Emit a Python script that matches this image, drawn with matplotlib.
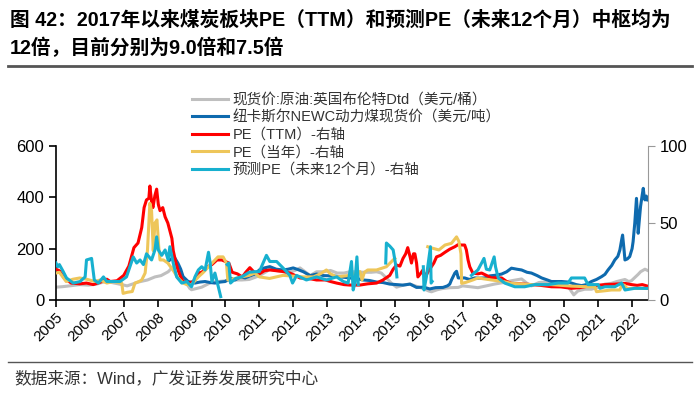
import numpy as np
import matplotlib
matplotlib.use('Agg')
import matplotlib.pyplot as plt

plt.rcParams['font.family'] = ['Liberation Sans', 'Noto Sans CJK SC', 'DejaVu Sans']
nan = np.nan

# 布伦特原油（美元/桶）- 左轴
brent_x = [2005.0, 2005.2, 2005.46, 2005.7, 2005.95, 2006.2, 2006.45, 2006.65, 2006.94, 2007.1, 2007.43, 2007.7,
           2007.92, 2008.1, 2008.31, 2008.46, 2008.55, 2008.71, 2008.85, 2008.95, 2009.0, 2009.15, 2009.3, 2009.45,
           2009.6, 2009.8, 2010.0, 2010.25, 2010.48, 2010.7, 2010.87, 2011.0, 2011.2, 2011.31, 2011.5, 2011.7,
           2011.9, 2012.05, 2012.2, 2012.35, 2012.5, 2012.69, 2012.9, 2013.1, 2013.3, 2013.5, 2013.67, 2013.9,
           2014.06, 2014.3, 2014.46, 2014.6, 2014.75, 2014.9, 2015.05, 2015.25, 2015.44, 2015.6, 2015.83, 2016.0,
           2016.08, 2016.25, 2016.42, 2016.62, 2016.87, 2017.0, 2017.2, 2017.45, 2017.7, 2017.94, 2018.2, 2018.44,
           2018.74, 2018.9, 2019.03, 2019.25, 2019.42, 2019.6, 2019.92, 2020.05, 2020.15, 2020.28, 2020.4, 2020.6,
           2020.8, 2021.0, 2021.2, 2021.39, 2021.55, 2021.79, 2021.9, 2021.98, 2022.1, 2022.18, 2022.25, 2022.38,
           2022.46]
brent_y = [50, 52, 56, 60, 58, 62, 72, 68, 60, 55, 70, 78,
           90, 95, 110, 130, 135, 100, 65, 45, 40, 45, 50, 60,
           70, 72, 75, 78, 78, 80, 88, 95, 110, 120, 115, 110,
           108, 115, 125, 110, 95, 110, 110, 115, 105, 105, 110, 110,
           108, 108, 110, 105, 86, 65, 50, 58, 62, 55, 45, 35,
           32, 40, 45, 48, 49, 55, 52, 48, 55, 62, 68, 75,
           82, 65, 55, 68, 70, 62, 65, 60, 45, 20, 35, 42,
           42, 50, 62, 65, 72, 80, 72, 75, 90, 100, 110, 120,
           115]

# 纽卡斯尔NEWC动力煤（美元/吨）- 左轴
coal_x = [2008.3, 2008.4, 2008.5, 2008.6, 2008.68, 2008.75, 2008.9, 2009.1, 2009.25, 2009.4, 2009.55, 2009.69,
          2009.85, 2009.99, 2010.15, 2010.28, 2010.45, 2010.58, 2010.75, 2010.87, 2011.0, 2011.15, 2011.31, 2011.5,
          2011.7, 2011.85, 2012.0, 2012.15, 2012.3, 2012.5, 2012.69, 2012.9, 2013.18, 2013.4, 2013.67, 2013.85,
          2014.06, 2014.25, 2014.46, 2014.65, 2014.85, 2015.05, 2015.24, 2015.45, 2015.64, 2015.85, 2016.03, 2016.2,
          2016.42, 2016.55, 2016.62, 2016.67, 2016.77, 2016.82, 2016.87, 2017.06, 2017.2, 2017.36, 2017.5, 2017.65,
          2017.8, 2017.94, 2018.15, 2018.3, 2018.44, 2018.6, 2018.74, 2018.9, 2019.03, 2019.2, 2019.33, 2019.5,
          2019.62, 2019.92, 2020.1, 2020.21, 2020.35, 2020.51, 2020.65, 2020.8, 2020.95, 2021.1, 2021.2, 2021.29,
          2021.4, 2021.49, 2021.58, 2021.64, 2021.7, 2021.72, 2021.76, 2021.79, 2021.86, 2021.93, 2022.0, 2022.03,
          2022.08, 2022.13, 2022.16, 2022.18, 2022.22, 2022.25, 2022.3, 2022.33, 2022.36, 2022.38, 2022.42, 2022.46]
coal_y = [150, 160, 165, 143, 120, 91, 72, 66, 70, 72, 68, 66,
          70, 72, 85, 78, 90, 86, 95, 101, 117, 125, 130, 120,
          117, 120, 125, 118, 110, 95, 101, 95, 94, 90, 86, 84,
          78, 76, 70, 68, 62, 60, 58, 62, 49, 50, 43, 48,
          49, 55, 62, 78, 105, 112, 86, 86, 80, 86, 85, 86,
          94, 96, 101, 110, 124, 120, 117, 108, 105, 95, 86, 78,
          72, 72, 70, 66, 60, 56, 60, 72, 80, 91, 100, 117,
          135, 156, 170, 195, 240, 253, 200, 156, 160, 169, 200, 227,
          300, 396, 330, 260, 320, 364, 410, 435, 400, 390, 405, 390]

# PE（TTM）- 右轴
pe_ttm_x = [2005.0, 2005.1, 2005.25, 2005.45, 2005.7, 2005.9, 2006.1, 2006.3, 2006.5, 2006.6, 2006.8, 2007.0,
            2007.15, 2007.3, 2007.42, 2007.53, 2007.6, 2007.67, 2007.74, 2007.77, 2007.82, 2007.86, 2007.92, 2007.97,
            2008.02, 2008.07, 2008.15, 2008.22, 2008.3, 2008.36, 2008.42, 2008.46, 2008.53, 2008.6, 2008.68, 2008.75,
            2008.9, 2009.0, 2009.1, 2009.19, 2009.3, 2009.4, 2009.48, 2009.6, 2009.75, 2009.89, 2010.0, 2010.1,
            2010.2, 2010.35, 2010.5, 2010.6, 2010.72, 2010.85, 2011.0, 2011.15, 2011.31, 2011.5, 2011.7, 2011.9,
            2012.05, 2012.2, 2012.45, 2012.69, 2012.95, 2013.1, 2013.28, 2013.5, 2013.67, 2013.97, 2014.2, 2014.46,
            2014.65, 2014.85, 2014.95, 2015.05, 2015.15, 2015.24, 2015.32, 2015.38, 2015.45, 2015.49, 2015.55, 2015.59,
            2015.64, 2015.68, 2015.75, 2015.83, 2015.9, 2015.97, 2016.08, 2016.15, 2016.23, 2016.35, 2016.48, 2016.62,
            2016.77, 2016.87, 2016.97, 2017.06, 2017.11, 2017.16, 2017.21, 2017.3, 2017.45, 2017.56, 2017.7, 2017.85,
            2018.0, 2018.15, 2018.3, 2018.44, 2018.7, 2019.03, 2019.3, 2019.62, 2019.9, 2020.21, 2020.45, 2020.7,
            2020.95, 2021.2, 2021.5, 2021.79, 2021.98, 2022.15, 2022.3, 2022.46]
pe_ttm_y = [20, 19, 14, 11, 10.5, 11, 10, 11.5, 13.5, 12, 12.5, 16,
            22, 34, 37, 47, 60, 65, 66, 74, 64, 60, 68, 72,
            62, 58, 60, 54, 50, 45, 40, 32, 25, 19.5, 15, 12,
            11, 11.5, 13, 17.5, 18, 20, 21.6, 23, 26, 26, 25, 24,
            18, 17, 15, 18, 21, 18, 17, 19, 19.5, 19, 18.5, 17.5,
            16, 14.3, 14, 13, 13, 12, 11, 10, 9.7, 9.7, 10.5, 11,
            13, 16, 20, 22.7, 22, 27, 30, 34, 28, 24, 30, 30,
            24, 15, 17, 19.5, 15, 18, 21.6, 24, 28, 29, 31, 33,
            34.6, 36, 35.7, 35.7, 32.5, 26, 21.6, 17.5, 17, 17.5, 16, 14.3,
            14.5, 14.3, 12, 10.8, 10.5, 10, 9.5, 8.6, 8.5, 7.6, 8, 9,
            9.5, 10, 10.3, 10.8, 10, 9.5, 10, 9]

# PE（当年）- 右轴
pe_cur_x = [2005.0, 2005.1, 2005.3, 2005.5, 2005.7, 2005.9, 2006.15, 2006.3, 2006.5, 2006.7, 2006.94, 2006.98,
            2007.1, 2007.25, 2007.33, 2007.45, 2007.53, 2007.63, 2007.7, 2007.77, 2007.82, 2007.87, 2007.92, 2007.98,
            2008.03, 2008.07, 2008.17, 2008.3, 2008.45, 2008.6, 2008.75, 2008.86, 2009.0, 2009.2, 2009.35, 2009.5,
            2009.65, 2009.78, 2009.93, 2010.03, 2010.07, 2010.3, 2010.48, 2010.7, 2010.87, 2011.0, 2011.3, 2011.7,
            2012.0, 2012.3, 2012.6, 2012.8, 2012.98, 2013.1, 2013.28, 2013.67, 2013.97, 2014.03, 2014.1, 2014.2,
            2014.46, 2014.75, 2014.95, 2015.0, 2015.01, 2015.97, 2016.05, 2016.3, 2016.48, 2016.67, 2016.82, 2016.89,
            2016.95, 2016.97, 2017.1, 2017.3, 2017.45, 2017.85, 2018.2, 2018.44, 2019.03, 2019.62, 2020.21, 2020.7,
            2020.9, 2020.95, 2021.2, 2021.39, 2021.64, 2021.7, 2021.78, 2021.85, 2022.08, 2022.46]
pe_cur_y = [17.5, 18, 12, 13.5, 14.3, 13.5, 12, 13, 11, 12, 11, 4.3,
            5, 5.5, 11, 12, 13, 17.5, 32.5, 62.8, 58, 32, 50, 52,
            35, 26, 26, 24, 19.5, 14.3, 11, 10, 10, 15, 18, 21.6,
            25, 28, 28, 24, 13, 14, 15, 16, 17.5, 15, 14, 16,
            15.5, 15, 15, 17, 19.5, 17, 15, 16, 18.4, 13, 18, 19.5,
            19.5, 21.6, 26, 27, nan, 34.6, 34, 32.5, 35.7, 36.8, 41, 38,
            30, 10.8, 11.5, 13, 14.3, 13, 12, 10.8, 10, 10, 9, 8.6,
            8.5, 5.4, 6, 6.5, 6.5, 10, 9.5, 7.5, 7.5, 7.5]

# 预测PE（未来12个月）- 右轴
pe_fwd_x = [2005.0, 2005.05, 2005.1, 2005.2, 2005.31, 2005.51, 2005.71, 2005.86, 2005.9, 2006.05, 2006.13, 2006.25,
            2006.4, 2006.5, 2006.69, 2006.89, 2007.08, 2007.28, 2007.38, 2007.48, 2007.58, 2007.67, 2007.82, 2007.92,
            2007.97, 2008.02, 2008.12, 2008.22, 2008.31, 2008.36, 2008.46, 2008.56, 2008.71, 2008.86, 2009.0, 2009.1,
            2009.2, 2009.3, 2009.4, 2009.5, 2009.55, 2009.6, 2009.69, 2009.79, 2009.86, 2009.9, 2010.05, 2010.1,
            2010.15, 2010.3, 2010.48, 2010.7, 2010.87, 2011.0, 2011.21, 2011.31, 2011.51, 2011.7, 2011.9, 2011.98,
            2012.1, 2012.39, 2012.69, 2012.98, 2013.28, 2013.48, 2013.62, 2013.72, 2013.77, 2013.82, 2013.88, 2013.92,
            2013.95, 2014.73, 2014.75, 2014.85, 2014.95, 2015.03, 2015.06, 2015.1, 2015.84, 2015.86, 2015.93, 2016.05,
            2016.07, 2016.1, 2016.15, 2017.26, 2017.45, 2017.56, 2017.63, 2017.7, 2017.8, 2017.93, 2017.97, 2018.05,
            2018.24, 2018.54, 2018.83, 2019.13, 2019.52, 2019.82, 2020.11, 2020.21, 2020.6, 2020.7, 2021.0, 2021.05,
            2021.2, 2021.49, 2021.69, 2021.79, 2022.08, 2022.46]
pe_fwd_y = [24, 21.6, 23, 19, 14.3, 11, 12, 15, 26, 27, 13, 11,
            15, 12, 12, 12, 15, 28, 24, 26, 23, 30, 26, 32.5,
            41, 32.5, 29, 32.5, 26, 34.6, 24, 15, 11, 12, 8.6, 15,
            19.5, 21.6, 19.5, 31, 24, 12, 17.5, 8.6, 2.2, nan, 23, 24,
            11, 14, 15, 18, 18.4, 18.4, 29, 25, 25, 20.8, 16, 11,
            16, 13, 15, 13, 15, 12, 11, 25, 6.5, 11, 28, 10,
            nan, 24, 37, 35, 32.5, 22, 15, nan, 21.6, 6.5, 15, 34.6,
            11, 12, nan, 16, 19.5, 24, 27, 20, 19.5, 28, 21.6, 14.3,
            11, 8.6, 8.6, 10, 10, 11, 11, 14.3, 14.3, 10, 10, 7.6,
            8.6, 8.6, 11, 6.5, 7.6, 7.5]

years = list(range(2005, 2023))
labels = ['现货价:原油:英国布伦特Dtd（美元/桶）', '纽卡斯尔NEWC动力煤现货价（美元/吨）',
          'PE（TTM）-右轴', 'PE（当年）-右轴', '预测PE（未来12个月）-右轴']
colors = ['#BFBFBF', '#0E6AAE', '#FF0000', '#EEC65A', '#17B0CF']

fig = plt.figure(figsize=(7, 3.93), dpi=100)
ax = fig.add_axes([56 / 700, 93 / 393, 592 / 700, 154 / 393])
ax2 = ax.twinx()

lw = 2.2
h1, = ax.plot(brent_x, brent_y, color=colors[0], lw=lw)
h2, = ax.plot(coal_x, coal_y, color=colors[1], lw=lw)
h3, = ax2.plot(pe_ttm_x, pe_ttm_y, color=colors[2], lw=lw)
h4, = ax2.plot(pe_cur_x, pe_cur_y, color=colors[3], lw=lw)
h5, = ax2.plot(pe_fwd_x, pe_fwd_y, color=colors[4], lw=lw)

ax.set_xlim(2005, 2022.47)
ax.set_ylim(0, 600)
ax2.set_ylim(0, 100)
ax.set_yticks([0, 200, 400, 600])
ax2.set_yticks([0, 50, 100])
ax.set_xticks(years)
ax.set_xticklabels([str(y) for y in years], rotation=45, ha='right', rotation_mode='anchor', fontsize=11)

for a in (ax, ax2):
    a.spines['top'].set_visible(False)
ax.spines['right'].set_visible(False)
ax2.spines['left'].set_visible(False)
ax2.spines['bottom'].set_visible(False)
ax2.spines['right'].set_color('#999999')
ax.spines['left'].set_linewidth(1.2)
ax.spines['bottom'].set_linewidth(1.2)
ax.tick_params(axis='y', labelsize=12, length=5, width=1.2)
ax.tick_params(axis='x', length=5, width=1.2, pad=2)
ax2.tick_params(axis='y', labelsize=12, length=5, color='#999999')

fig.legend([h1, h2, h3, h4, h5], labels, loc='upper left', bbox_to_anchor=(186 / 700, 1 - 87 / 393),
           frameon=False, fontsize=10.5, handlelength=2.5, handletextpad=0.3, labelspacing=0.24,
           borderaxespad=0, labelcolor='#333333')

fig.text(10 / 700, 1 - 20 / 393, '图 42：2017年以来煤炭板块PE（TTM）和预测PE（未来12个月）中枢均为',
         fontsize=14.2, fontweight='bold', va='center', ha='left')
fig.text(10 / 700, 1 - 48 / 393, '12倍，目前分别为9.0倍和7.5倍',
         fontsize=14.2, fontweight='bold', va='center', ha='left')
fig.add_artist(plt.Line2D([8 / 700, 692 / 700], [1 - 66 / 393, 1 - 66 / 393], color='#555555', lw=2))
fig.add_artist(plt.Line2D([8 / 700, 692 / 700], [1 - 362 / 393, 1 - 362 / 393], color='#555555', lw=1))
fig.text(14 / 700, 1 - 378 / 393, '数据来源：Wind，广发证券发展研究中心', fontsize=12, color='#333333',
         va='center', ha='left')

fig.savefig('out.png', dpi=100)
